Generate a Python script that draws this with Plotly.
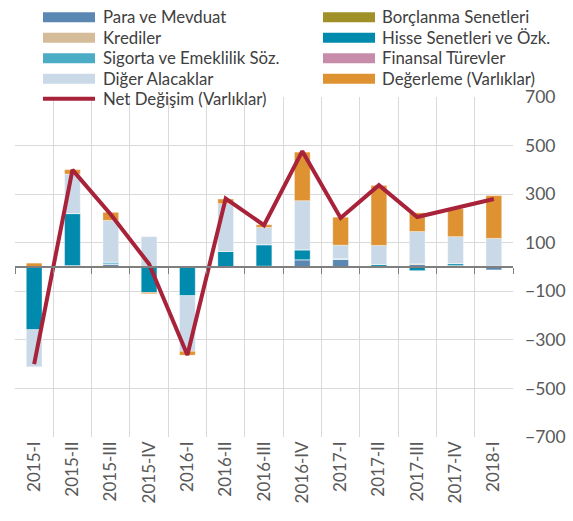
import plotly.graph_objects as go

categories = ["2015-I", "2015-II", "2015-III", "2015-IV", "2016-I", "2016-II", "2016-III",
              "2016-IV", "2017-I", "2017-II", "2017-III", "2017-IV", "2018-I"]

para = [0, 6, 10, 0, 3, 0, 4, 30, 32, 2, 10, 3, -12]
borclanma = [0, 0, 2, 0, 0, 0, 0, 0, 0, 0, 3, 3, 4]
krediler = [0, 0, 0, 0, 0, 0, 0, 0, 0, 0, 0, 0, 0]
hisse = [-258, 214, 4, -105, -118, 64, 88, 41, 0, 8, -15, 8, 0]
sigorta = [0, 0, 4, 0, 0, 0, 0, 0, 2, 0, 0, 0, 0]
finansal = [0, 0, 0, 0, 0, 0, 0, 0, 0, 0, 0, 0, 0]
diger = [-153, 163, 172, 125, -229, 197, 71, 202, 56, 79, 133, 111, 114]
degerleme = [16, 18, 33, -5, -16, 19, 11, 200, 115, 247, 77, 115, 176]
net = [-400, 400, 216, 12, -362, 282, 172, 477, 202, 337, 206, 243, 280]

y_ticks = [-700, -500, -300, -100, 100, 300, 500, 700]

series = [
    ("Para ve Mevduat", para, "#5B87B3"),
    ("Borçlanma Senetleri", borclanma, "#A09028"),
    ("Krediler", krediler, "#D5BC98"),
    ("Hisse Senetleri ve Özk.", hisse, "#008AAD"),
    ("Sigorta ve Emeklilik Söz.", sigorta, "#4BACC6"),
    ("Finansal Türevler", finansal, "#C68CA9"),
    ("Diğer Alacaklar", diger, "#C9D9E7"),
    ("Değerleme (Varlıklar)", degerleme, "#DE9232"),
]
net_name = "Net Değişim (Varlıklar)"
net_color = "#A8223A"

FONT = "Lato"
W, H = 573, 521
ML, MR, MT, MB = 15, 60, 97, 84
PW, PH = W - ML - MR, H - MT - MB

fig = go.Figure()

for name, vals, color in series:
    fig.add_trace(go.Bar(
        x=categories, y=vals, name=name, showlegend=False,
        marker=dict(color=color, line=dict(width=0.6, color="rgba(255,255,255,0.6)")),
    ))

fig.add_trace(go.Scatter(
    x=categories, y=net, mode="lines", name=net_name, showlegend=False,
    line=dict(color=net_color, width=4),
))

# helper trace for zero-line axis
fig.add_trace(go.Scatter(x=categories, y=[None] * len(categories), xaxis="x2",
                         showlegend=False, hoverinfo="skip", mode="lines"))

# legend drawn as shapes + text (two columns)
def px_x(px):
    return (px - ML) / PW

def px_y(py):
    return (H - MB - py) / PH

shapes = []
annotations = []
col_sw = [(43, 95), (323, 375)]
col_tx = [101, 380]
row_y = [16.7, 37.3, 57.7, 78.3, 98.3]
entries = [(n, c) for n, _, c in series] + [(net_name, net_color)]
for i, (name, color) in enumerate(entries):
    col, row = i % 2, i // 2
    cy = row_y[row]
    x0, x1 = col_sw[col]
    if name == net_name:
        shapes.append(dict(type="line", xref="paper", yref="paper",
                           x0=px_x(x0), x1=px_x(x1), y0=px_y(cy + 0.5), y1=px_y(cy + 0.5),
                           line=dict(color=color, width=4), layer="above"))
    else:
        shapes.append(dict(type="rect", xref="paper", yref="paper",
                           x0=px_x(x0), x1=px_x(x1), y0=px_y(cy + 5.5), y1=px_y(cy - 4.5),
                           fillcolor=color, line=dict(width=0), layer="above"))
    annotations.append(dict(text=name, xref="paper", yref="paper", x=px_x(col_tx[col]),
                            y=px_y(cy), xanchor="left", yanchor="middle", showarrow=False,
                            font=dict(size=16.8, family=FONT, color="#404040")))

grid = "#D9D9D9"
fig.update_layout(
    width=W, height=H,
    margin=dict(l=ML, r=MR, t=MT, b=MB, autoexpand=False),
    paper_bgcolor="white", plot_bgcolor="white",
    barmode="relative", bargap=0.59,
    showlegend=False,
    font=dict(family=FONT, color="#404040"),
    shapes=shapes, annotations=annotations,
    xaxis=dict(type="category", categoryorder="array", categoryarray=categories,
               tickson="boundaries", showgrid=True, gridcolor=grid, gridwidth=1,
               ticks="", tickangle=-90, showline=False, zeroline=False, automargin=False,
               tickfont=dict(size=17, family=FONT, color="#595959"),
               range=[-0.5, len(categories) - 0.5]),
    xaxis2=dict(type="category", categoryorder="array", categoryarray=categories,
                overlaying="x", anchor="free", position=0.5, side="bottom",
                tickson="boundaries", ticks="outside", ticklen=6, tickcolor="#7F7F7F",
                tickwidth=1, showline=True, linecolor="#7F7F7F", linewidth=1.5,
                showgrid=False, showticklabels=False, zeroline=False,
                range=[-0.5, len(categories) - 0.5]),
    yaxis=dict(side="right", range=[-700, 700], tickvals=y_ticks, automargin=False,
               showgrid=True, gridcolor=grid, gridwidth=1, zeroline=False,
               ticks="", ticklabelstandoff=11,
               tickfont=dict(size=17.5, family=FONT, color="#595959")),
)

fig.write_html("out.html", config={"displayModeBar": False},
               post_script="document.body.style.margin='0';document.body.style.padding='0';")
